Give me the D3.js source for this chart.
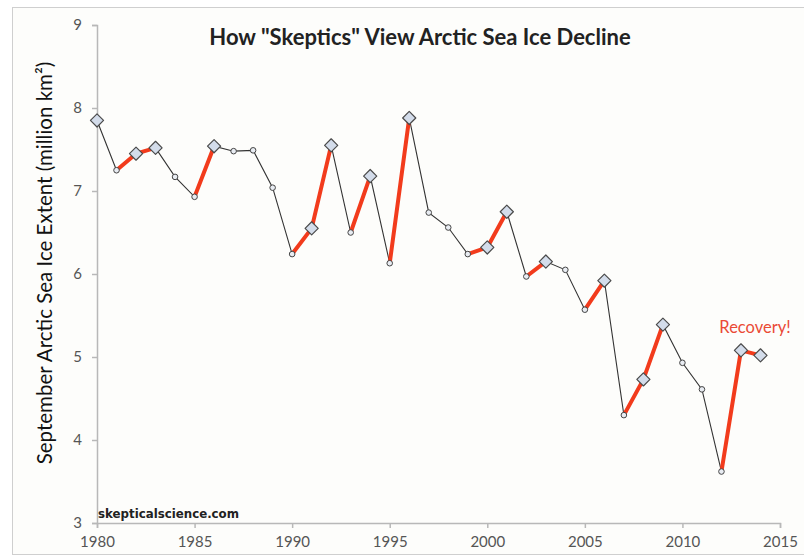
<!DOCTYPE html>
<html><head><meta charset="utf-8">
<script src="https://cdn.jsdelivr.net/npm/d3@7"></script>
<style>body{margin:0;background:#fff}svg{display:block}</style>
</head><body>
<svg id="c" width="804" height="559"></svg>
<script>
const years = [1980,1981,1982,1983,1984,1985,1986,1987,1988,1989,1990,1991,1992,1993,1994,1995,1996,1997,1998,1999,2000,2001,2002,2003,2004,2005,2006,2007,2008,2009,2010,2011,2012,2013,2014];
const extent = [7.85,7.25,7.45,7.52,7.17,6.93,7.54,7.48,7.49,7.04,6.24,6.55,7.55,6.50,7.18,6.13,7.88,6.74,6.56,6.24,6.32,6.75,5.97,6.15,6.05,5.57,5.92,4.30,4.73,5.39,4.93,4.61,3.62,5.08,5.02];
// start years of the red "recovery" segments
const recoveryStarts = [1981,1982,1985,1990,1991,1993,1995,1999,2000,2002,2005,2007,2008,2012,2013];
// years drawn with a large diamond marker
const bigMarkers = [1980,1982,1983,1986,1991,1992,1994,1996,2000,2001,2003,2006,2008,2009,2013,2014];
const yTicks = [3,4,5,6,7,8,9];
const xTicks = [1980,1985,1990,1995,2000,2005,2010,2015];
const title = 'How "Skeptics" View Arctic Sea Ice Decline';
const yLabel = "September Arctic Sea Ice Extent (million km²)";
const annotation = "Recovery!";
const credit = "skepticalscience.com";

const svg = d3.select("#c");
svg.append("rect").attr("x",12.5).attr("y",7.5).attr("width",800).attr("height",547)
  .attr("fill","#fdfdfb").attr("stroke","#cfcfcf");

const x = d3.scaleLinear().domain([1980,2015]).range([97,780]);
const y = d3.scaleLinear().domain([3,9]).range([523,25]);

const axisColor = "#b8b8b8";
const gy = svg.append("g").attr("transform","translate(97,0)")
  .call(d3.axisLeft(y).tickValues(yTicks).tickSize(5).tickPadding(10).tickFormat(d3.format("d")));
const gx = svg.append("g").attr("transform","translate(0,523)")
  .call(d3.axisBottom(x).tickValues(xTicks).tickSize(5).tickPadding(8).tickFormat(d3.format("d")));
[gx,gy].forEach(g=>{
  g.select(".domain").attr("stroke",axisColor).attr("stroke-width",1.5);
  g.selectAll(".tick line").attr("stroke",axisColor).attr("stroke-width",1.5);
  g.selectAll(".tick text").attr("fill","#555").attr("font-family","Lato, 'Open Sans', sans-serif").attr("font-size",15);
});

const pts = years.map((yr,i)=>({yr, v:extent[i]}));
const line = d3.line().x(d=>x(d.yr)).y(d=>y(d.v));
svg.append("path").attr("d",line(pts)).attr("fill","none").attr("stroke","#333").attr("stroke-width",1.1);

recoveryStarts.forEach(s=>{
  const i = years.indexOf(s);
  svg.append("path").attr("d",line([pts[i],pts[i+1]])).attr("fill","none")
    .attr("stroke","#f23b1c").attr("stroke-width",4).attr("stroke-linecap","round");
});

pts.forEach(d=>{
  if (bigMarkers.includes(d.yr)) {
    svg.append("path").attr("d",d3.symbol(d3.symbolDiamond2,110)())
      .attr("transform",`translate(${x(d.yr)},${y(d.v)})`)
      .attr("fill","#d3dcea").attr("stroke","#4a4a4a").attr("stroke-width",1.2).attr("stroke-linejoin","round");
  } else {
    svg.append("circle").attr("cx",x(d.yr)).attr("cy",y(d.v)).attr("r",2.8)
      .attr("fill","#e8ecf2").attr("stroke","#444").attr("stroke-width",1);
  }
});

svg.append("text").attr("x",420).attr("y",45).attr("text-anchor","middle")
  .attr("font-family","Lato, 'Open Sans', sans-serif").attr("font-weight","bold").attr("font-size",22)
  .attr("fill","#222").text(title);

svg.append("text").attr("transform","translate(52,263) rotate(-90)").attr("text-anchor","middle")
  .attr("font-family","Lato, 'Open Sans', sans-serif").attr("font-size",20.5).attr("fill","#111").text(yLabel);

svg.append("text").attr("x",755).attr("y",333).attr("text-anchor","middle")
  .attr("font-family","Lato, 'Open Sans', sans-serif").attr("font-size",16.5).attr("fill","#ea4a35").text(annotation);

svg.append("text").attr("x",98).attr("y",518)
  .attr("font-family","'DejaVu Sans', Verdana, sans-serif").attr("font-weight","bold").attr("font-size",11.8)
  .attr("fill","#222").text(credit);
</script>
</body></html>
